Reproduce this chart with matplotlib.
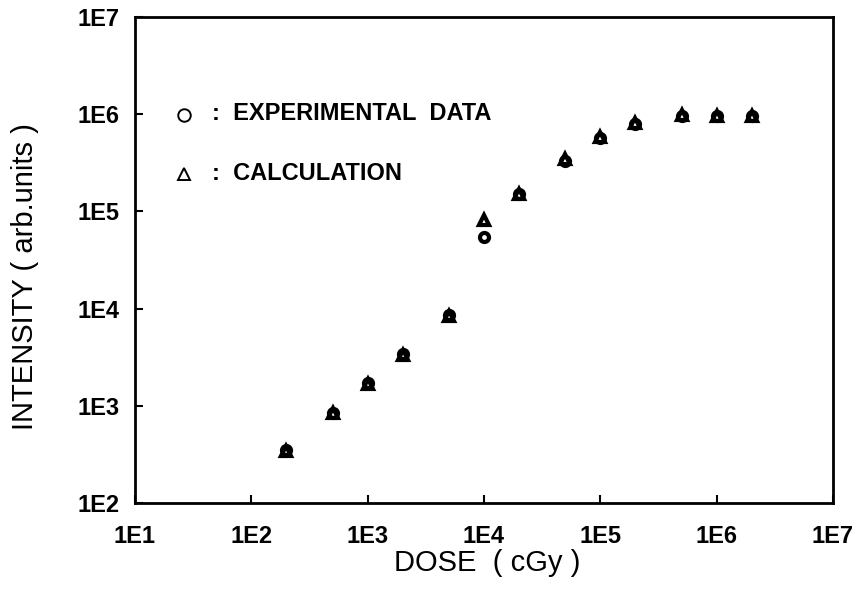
import matplotlib
matplotlib.use("Agg")
import matplotlib.pyplot as plt

plt.rcParams['font.family'] = ['Liberation Sans', 'DejaVu Sans']

dose = [2e2, 5e2, 1e3, 2e3, 5e3, 1e4, 2e4, 5e4, 1e5, 2e5, 5e5, 1e6, 2e6]
experimental = [350, 850, 1700, 3400, 8500, 5.5e4, 1.5e5, 3.3e5, 5.7e5, 8.0e5, 9.6e5, 9.6e5, 9.6e5]
calculation = [340, 840, 1680, 3350, 8300, 8.2e4, 1.52e5, 3.5e5, 5.8e5, 8.2e5, 9.8e5, 9.6e5, 9.6e5]

xticks = [1e1, 1e2, 1e3, 1e4, 1e5, 1e6, 1e7]
xticklabels = ['1E1', '1E2', '1E3', '1E4', '1E5', '1E6', '1E7']
yticks = [1e2, 1e3, 1e4, 1e5, 1e6, 1e7]
yticklabels = ['1E2', '1E3', '1E4', '1E5', '1E6', '1E7']

W, H = 853, 599
fig = plt.figure(figsize=(W / 100, H / 100), dpi=100)
ax = fig.add_axes([135 / W, 1 - 503 / H, 698 / W, 486 / H])
ax.set_xscale('log')
ax.set_yscale('log')
ax.set_xlim(1e1, 1e7)
ax.set_ylim(1e2, 1e7)

ax.plot(dose, experimental, linestyle='none', marker='o', markersize=6.5,
        markerfacecolor='none', markeredgecolor='black', markeredgewidth=3)
ax.plot(dose, calculation, linestyle='none', marker='^', markersize=7,
        markerfacecolor='none', markeredgecolor='black', markeredgewidth=3)

ax.set_xticks(xticks)
ax.set_xticklabels(xticklabels)
ax.set_yticks(yticks)
ax.set_yticklabels(yticklabels)
ax.minorticks_off()
ax.tick_params(which='major', direction='in', length=6, width=1.5, labelsize=17)
ax.tick_params(axis='x', pad=16)
ax.tick_params(axis='y', pad=11)
for lab in ax.get_xticklabels() + ax.get_yticklabels():
    lab.set_fontweight('bold')
for sp in ax.spines.values():
    sp.set_linewidth(2)

fig.text(487 / W, 1 - 563 / H, 'DOSE  ( cGy )', fontsize=21,
         ha='center', va='center')
fig.text(25 / W, 1 - 277 / H, 'INTENSITY ( arb.units )', fontsize=21,
         ha='center', va='center', rotation=90)

def ax_pos(px, py):
    return ((px - 135) / 698, (503 - py) / 486)

ax.plot(*ax_pos(184, 115), transform=ax.transAxes, marker='o', markersize=9,
        markerfacecolor='none', markeredgecolor='black', markeredgewidth=1.4,
        clip_on=False)
ax.plot(*ax_pos(184, 174), transform=ax.transAxes, marker='^', markersize=9,
        markerfacecolor='none', markeredgecolor='black', markeredgewidth=1.4,
        clip_on=False)
x0, y0 = ax_pos(212, 113)
ax.text(x0, y0, ':  EXPERIMENTAL  DATA', transform=ax.transAxes,
        fontsize=17, fontweight='bold', va='center', ha='left')
x1, y1 = ax_pos(212, 173)
ax.text(x1, y1, ':  CALCULATION', transform=ax.transAxes,
        fontsize=17, fontweight='bold', va='center', ha='left')

fig.savefig('out.png', dpi=100)
